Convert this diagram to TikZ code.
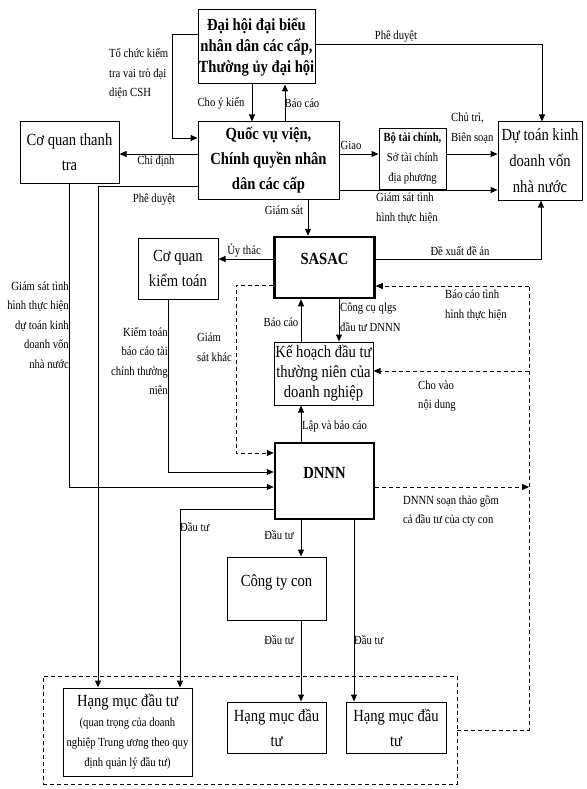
\documentclass[tikz,border=0pt]{standalone}
\usepackage{fontspec}
\setmainfont[FakeStretch=0.86]{Liberation Serif}
\usetikzlibrary{arrows.meta}
\begin{document}
\begin{tikzpicture}[x=1pt,y=-1pt,
  box/.style={draw, line width=1pt, rectangle, inner sep=0.5pt, align=center, font=\fontsize{17}{25}\selectfont},
  tbox/.style={box, line width=2.5pt},
  lbl/.style={inner sep=0pt, align=left, font=\fontsize{12.4}{19.5}\selectfont},
  ln/.style={line width=1pt},
  arr/.style={ln, -{Triangle[length=7pt,width=6pt]}},
  dsh/.style={dashed, dash pattern=on 4pt off 3pt}]
\useasboundingbox[fill=white] (0,0) rectangle (586,789);

% boxes
\node[box, minimum width=117, minimum height=74, font=\fontsize{17}{21}\selectfont\bfseries] (dh) at (256.5,47) {Đại hội đại biểu\\nhân dân các cấp,\\Thường ủy đại hội};
\node[box, minimum width=141, minimum height=77, font=\fontsize{17}{25}\selectfont\bfseries] (qvv) at (268.5,160.5) {Quốc vụ viện,\\Chính quyền nhân\\dân các cấp};
\node[box, minimum width=67, minimum height=61, font=\fontsize{12.4}{20}\selectfont] (btc) at (412.5,158.5) {\textbf{Bộ tài chính,}\\Sở tài chính\\địa phương};
\node[box, minimum width=84, minimum height=78, font=\fontsize{17}{26}\selectfont] (dt) at (540,161) {Dự toán kinh\\doanh vốn\\nhà nước};
\node[box, minimum width=99, minimum height=61] (cqtt) at (69.5,152.5) {Cơ quan thanh\\tra};
\node[box, minimum width=80, minimum height=61] (cqkt) at (178,268.5) {Cơ quan\\kiểm toán};
\node[tbox, minimum width=100, minimum height=61, text height=12pt, text depth=19pt, font=\fontsize{17}{25}\selectfont\bfseries] (sasac) at (324.5,267.5) {SASAC};
\node[box, minimum width=99, minimum height=63, font=\fontsize{17}{20}\selectfont] (kh) at (323.5,373.5) {Kế hoạch đầu tư\\thường niên của\\doanh nghiệp};
\node[tbox, minimum width=99, minimum height=76, text height=12pt, text depth=18pt, font=\fontsize{17}{25}\selectfont\bfseries] (dnnn) at (324.5,481) {DNNN};
\node[box, minimum width=99, minimum height=63, text height=12pt, text depth=17pt] (ctc) at (276.5,588.5) {Công ty con};
\node[draw, dsh, line width=0.9pt, minimum width=414, minimum height=108] (dr) at (250,730) {};
\node[box, minimum width=129, minimum height=88, font=\fontsize{12.4}{20}\selectfont] (hm1) at (127.5,732) {{\fontsize{17}{20}\selectfont Hạng mục đầu tư}\\(quan trọng của doanh\\nghiệp Trung ương theo quy\\định quản lý đầu tư)};
\node[box, minimum width=99, minimum height=51] (hm2) at (276.5,727.5) {Hạng mục đầu\\tư};
\node[box, minimum width=100, minimum height=51] (hm3) at (396,727.5) {Hạng mục đầu\\tư};

% coordinates of the dashed feedback loop
\coordinate (fbTop) at (529,286);
\coordinate (fbMid) at (529,371);
\coordinate (fbDn) at (529,487);
\coordinate (fbBot) at (529,730);

% connectors
\draw[arr] (dh.east |- 0,45) -| (dt.north -| 542,0);
\draw[arr] (dh.south -| 252,0) -- (qvv.north -| 252,0);
\draw[arr] (qvv.north -| 285,0) -- (dh.south -| 285,0);
\draw[arr] (dh.west |- 0,35) -- (172,35) -- (172,138) -- (qvv.west |- 0,138);
\draw[arr] (qvv.west |- 0,154) -- (cqtt.east |- 0,154);
\draw[arr] (qvv.east |- 0,154) -- (btc.west |- 0,154);
\draw[arr] (btc.east |- 0,154) -- (dt.west |- 0,154);
\draw[arr] (qvv.east |- 0,190) -- (dt.west |- 0,190);
\draw[arr] (qvv.west |- 0,186) -| (hm1.north -| 98,0);
\draw[arr] (cqtt.south -| 69,0) |- (dnnn.west |- 0,487);
\draw[arr] (qvv.south -| 308,0) -- (sasac.north -| 308,0);
\draw[arr] (sasac.west |- 0,259) -- (cqkt.east |- 0,259);
\draw[arr] (sasac.east |- 0,259) -| (dt.south -| 541,0);
\draw[arr] (cqkt.south -| 168,0) |- (dnnn.west |- 0,472);
\draw[arr, dsh] (sasac.west |- 0,285) -- (236,285) -- (236,453) -- (dnnn.west |- 0,453);
\draw[arr] (kh.north -| 301,0) -- (sasac.south -| 301,0);
\draw[arr] (sasac.south -| 339,0) -- (kh.north -| 339,0);
\draw[arr] (dnnn.north -| 301,0) -- (kh.south -| 301,0);
\draw[ln, dsh] (dr.east |- fbBot) -- (fbBot) -- (fbTop);
\draw[arr, dsh] (fbTop) -- (sasac.east |- fbTop);
\draw[arr, dsh] (fbMid) -- (kh.east |- fbMid);
\draw[arr, dsh] (dnnn.east |- fbDn) -- (fbDn);
\draw[arr] (dnnn.south -| 301,0) -- (ctc.north -| 301,0);
\draw[arr] (dnnn.west |- 0,509) -| (hm1.north -| 180,0);
\draw[arr] (dnnn.south -| 354,0) -- (hm3.north -| 354,0);
\draw[arr] (ctc.south -| 301,0) -- (hm2.north -| 301,0);

% labels
\node[lbl] (l1) at (396,37) {Phê duyệt};
\node[lbl, anchor=west] (l2) at (109,74) {Tổ chức kiểm\\tra vai trò đại\\diện CSH};
\node[lbl] (l3) at (221,103) {Cho ý kiến};
\node[lbl] (l4) at (302,103) {Báo cáo};
\node[lbl] (l5) at (156,161) {Chỉ định};
\node[lbl] (l6) at (351,145) {Giao};
\node[lbl, anchor=west] (l7) at (451,128) {Chủ trì,\\Biên soạn};
\node[lbl, anchor=west] (l8) at (376,208) {Giám sát tình\\hình thực hiện};
\node[lbl] (l9) at (154,200) {Phê duyệt};
\node[lbl] (l10) at (284,210) {Giám sát};
\node[lbl] (l11) at (244,251) {Ủy thác};
\node[lbl] (l12) at (460,251) {Đề xuất đề án};
\node[lbl, anchor=east, align=right] (l13) at (69,325) {Giám sát tình\\hình thực hiện\\dự toán kinh\\doanh vốn\\nhà nước};
\node[lbl, anchor=east, align=right] (l14) at (168,361) {Kiểm toán\\báo cáo tài\\chính thường\\niên};
\node[lbl, anchor=west] (l15) at (197,347) {Giám\\sát khác};
\node[lbl] (l16) at (281,322) {Báo cáo};
\node[lbl, anchor=west] (l17) at (340,317) {Công cụ qlgs\\đầu tư DNNN};
\node[lbl, anchor=west] (l18) at (445,305) {Báo cáo tình\\hình thực hiện};
\node[lbl, anchor=west] (l19) at (418,396) {Cho vào\\nội dung};
\node[lbl, anchor=west] (l20) at (302,427) {Lập và báo cáo};
\node[lbl, anchor=west] (l21) at (403,511) {DNNN soạn thảo gồm\\cả đầu tư của cty con};
\node[lbl, anchor=west] (l22) at (180,527) {Đầu tư};
\node[lbl] (l23) at (279,535) {Đầu tư};
\node[lbl] (l24) at (279,640) {Đầu tư};
\node[lbl, anchor=west] (l25) at (354,640) {Đầu tư};
\end{tikzpicture}
\end{document}
